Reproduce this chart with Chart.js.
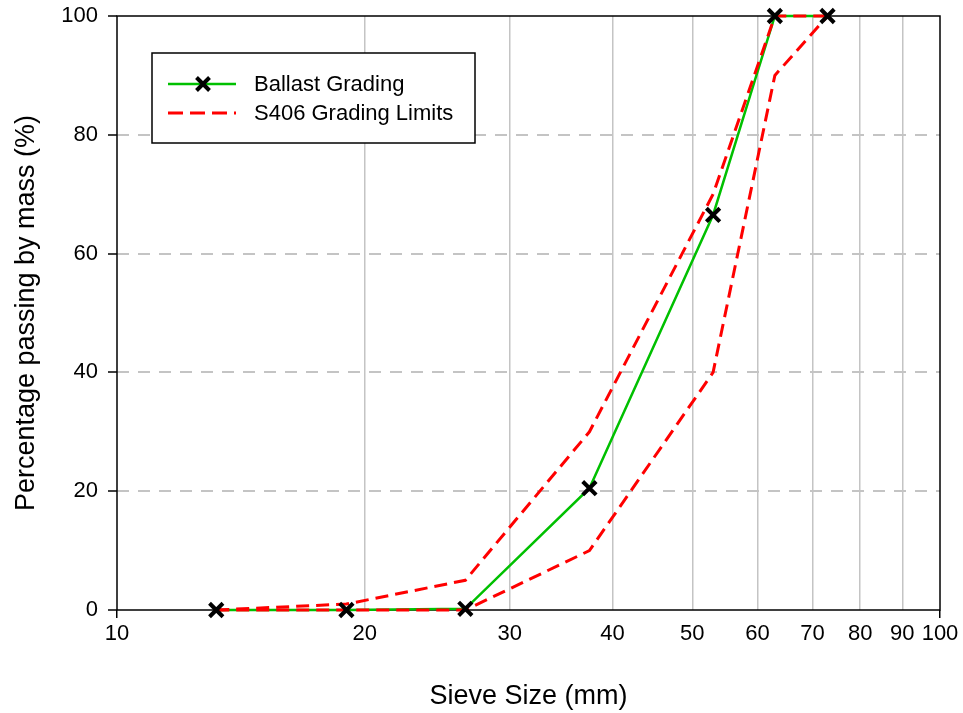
<!DOCTYPE html>
<html>
<head>
<meta charset="utf-8">
<script src="https://cdn.jsdelivr.net/npm/chart.js@4.4.1/dist/chart.umd.min.js"></script>
<style>
  html, body { margin: 0; padding: 0; background: #fff; }
  #wrap { width: 963px; height: 713px; position: relative; }
</style>
</head>
<body>
<div id="wrap"><canvas id="chart"></canvas></div>
<script>
// sieve sizes (mm) and percentage passing
const sieveSizes = [13.2, 19, 26.5, 37.5, 53, 63, 73];
const ballastGrading = [0, 0, 0.2, 20.5, 66.5, 100, 100];
const upperLimit = [0, 1, 5, 30, 70, 100, 100];
const lowerLimit = [0, 0, 0, 10, 40, 90, 100];
const xTicks = [10, 20, 30, 40, 50, 60, 70, 80, 90, 100];
const yTicks = [0, 20, 40, 60, 80, 100];

const FONT = 'Liberation Sans, Arial, sans-serif';
const GREEN = '#00c000';
const RED = '#ff0000';

function pts(ys) {
  return sieveSizes.map((x, i) => ({ x: x, y: ys[i] }));
}

// black frame round the plot area, under the data
const framePlugin = {
  id: 'frame',
  beforeDatasetsDraw(chart) {
    const { ctx, chartArea: a } = chart;
    ctx.save();
    ctx.strokeStyle = '#000';
    ctx.lineWidth = 1.5;
    ctx.strokeRect(a.left, a.top, a.right - a.left, a.bottom - a.top);
    ctx.restore();
  }
};

// legend box inside the plot
const legendPlugin = {
  id: 'boxLegend',
  afterDraw(chart) {
    const ctx = chart.ctx;
    const bx = 152, by = 53, bw = 323, bh = 90;
    ctx.save();
    ctx.fillStyle = '#fff';
    ctx.fillRect(bx, by, bw, bh);
    ctx.strokeStyle = '#000';
    ctx.lineWidth = 1.5;
    ctx.strokeRect(bx, by, bw, bh);

    // green line with cross
    ctx.strokeStyle = GREEN;
    ctx.lineWidth = 2.5;
    ctx.beginPath();
    ctx.moveTo(168, 84);
    ctx.lineTo(236, 84);
    ctx.stroke();
    ctx.strokeStyle = '#000';
    ctx.lineWidth = 4;
    const r = 6.5;
    ctx.beginPath();
    ctx.moveTo(203 - r, 84 - r); ctx.lineTo(203 + r, 84 + r);
    ctx.moveTo(203 - r, 84 + r); ctx.lineTo(203 + r, 84 - r);
    ctx.stroke();

    // red dashed
    ctx.strokeStyle = RED;
    ctx.lineWidth = 3;
    ctx.setLineDash([15, 7]);
    ctx.beginPath();
    ctx.moveTo(168, 113);
    ctx.lineTo(236, 113);
    ctx.stroke();
    ctx.setLineDash([]);

    ctx.fillStyle = '#000';
    ctx.font = '22px ' + FONT;
    ctx.textBaseline = 'middle';
    ctx.textAlign = 'left';
    ctx.fillText(chart.data.datasets[3].label, 254, 85);
    ctx.fillText(chart.data.datasets[1].label, 254, 114);
    ctx.restore();
  }
};

new Chart(document.getElementById('chart'), {
  type: 'line',
  data: {
    datasets: [
      {
        label: 'Ballast Grading markers',
        data: pts(ballastGrading),
        showLine: false,
        clip: false,
        pointStyle: 'crossRot',
        pointRadius: 9.5,
        pointBorderWidth: 4,
        pointBorderColor: '#000',
        pointBackgroundColor: '#000'
      },
      {
        label: 'S406 Grading Limits',
        data: pts(upperLimit),
        clip: false,
        borderColor: RED,
        borderWidth: 3,
        borderDash: [13, 7],
        pointRadius: 0,
        tension: 0
      },
      {
        label: 'S406 lower',
        data: pts(lowerLimit),
        clip: false,
        borderColor: RED,
        borderWidth: 3,
        borderDash: [13, 7],
        pointRadius: 0,
        tension: 0
      },
      {
        label: 'Ballast Grading',
        data: pts(ballastGrading),
        clip: false,
        borderColor: GREEN,
        borderWidth: 2.5,
        pointRadius: 0,
        tension: 0
      }
    ]
  },
  options: {
    responsive: true,
    maintainAspectRatio: false,
    animation: false,
    layout: { padding: { top: 16, right: 23, left: 0, bottom: 0 } },
    plugins: {
      legend: { display: false },
      tooltip: { enabled: false }
    },
    scales: {
      x: {
        type: 'logarithmic',
        min: 10,
        max: 100,
        afterBuildTicks(scale) {
          scale.ticks = xTicks.map(v => ({ value: v, major: v === 10 || v === 100 }));
        },
        afterFit(scale) {
          scale.height = 103;
          scale.paddingLeft = 0;
          scale.paddingRight = 0;
        },
        grid: {
          color: ctx => (ctx.tick && (ctx.tick.value === 10 || ctx.tick.value === 100)) ? 'rgba(0,0,0,0)' : '#c4c4c4',
          lineWidth: 1.5,
          drawTicks: true,
          tickLength: 8,
          tickWidth: 1.5,
          tickColor: ctx => (ctx.tick && (ctx.tick.value === 10 || ctx.tick.value === 100)) ? '#000' : 'rgba(0,0,0,0)'
        },
        border: { display: false },
        ticks: {
          autoSkip: false,
          maxRotation: 0,
          padding: 3,
          color: '#000',
          font: { family: FONT, size: 22 },
          callback: v => String(v)
        },
        title: {
          display: true,
          text: 'Sieve Size (mm)',
          color: '#000',
          font: { family: FONT, size: 27 },
          padding: { top: 0, bottom: 0 }
        }
      },
      y: {
        min: 0,
        max: 100,
        afterBuildTicks(scale) {
          scale.ticks = yTicks.map(v => ({ value: v }));
        },
        afterFit(scale) {
          scale.width = 117;
          scale.paddingTop = 0;
          scale.paddingBottom = 0;
        },
        grid: {
          color: ctx => (ctx.tick && (ctx.tick.value === 0 || ctx.tick.value === 100)) ? 'rgba(0,0,0,0)' : '#c4c4c4',
          lineWidth: 2,
          drawTicks: true,
          tickLength: 9,
          tickWidth: 1.5,
          tickColor: '#000',
          tickBorderDash: []
        },
        border: { display: false, dash: [12, 9] },
        ticks: {
          padding: 10,
          color: '#000',
          font: { family: FONT, size: 22 }
        },
        title: {
          display: true,
          text: 'Percentage passing by mass (%)',
          color: '#000',
          font: { family: FONT, size: 27 },
          padding: { top: 10, bottom: 0 }
        }
      }
    }
  },
  plugins: [framePlugin, legendPlugin]
});
</script>
</body>
</html>
